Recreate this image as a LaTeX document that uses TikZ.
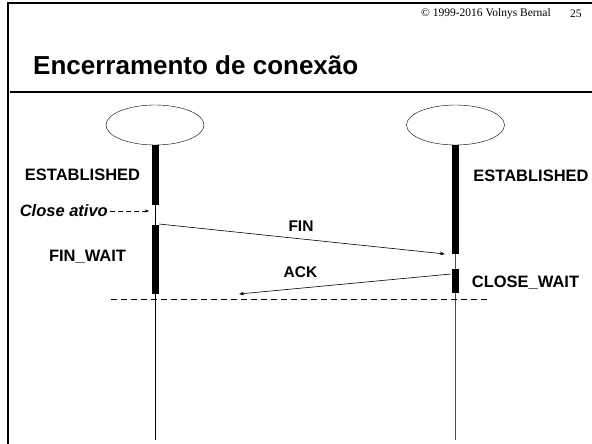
\documentclass[tikz,border=0pt]{standalone}
\usepackage{fontspec}
\setmainfont{Liberation Sans}
\newfontfamily\copyfont{Liberation Serif}
\usetikzlibrary{arrows.meta,shapes.geometric}
\begin{document}
\begin{tikzpicture}[x=1pt,y=-1pt]
       \tikzstyle{host}=[draw, ellipse, minimum width=98pt, minimum height=40pt, inner sep=0pt]
       \tikzstyle{statelabel}=[font=\fontsize{16.5}{18}\selectfont\bfseries, inner sep=0pt]
       \tikzstyle{msglabel}=[font=\fontsize{15.5}{18}\selectfont\bfseries, inner sep=0pt]
       \tikzstyle{active}=[line width=7pt]
       \tikzstyle{msg}=[-{Stealth[length=5pt,width=3.5pt]}, line width=0.6pt]
       \useasboundingbox (0,0) rectangle (592,444);
       % slide frame
       \draw[line width=2pt] (8,444) -- (8,3) -- (592,3);
       \draw[line width=2.5pt] (10,92) -- (592,92);
       \node[font=\copyfont\fontsize{11.5}{13}\selectfont, anchor=west, inner sep=0pt] (copy) at (421,14) {\textcopyright{} 1999-2016 Volnys Bernal};
       \node[font=\copyfont\fontsize{11.5}{13}\selectfont, anchor=west, inner sep=0pt] (page) at (570,14) {25};
       \node[font=\fontsize{26}{30}\selectfont\bfseries, anchor=base west, inner sep=0pt] (title) at (33,75) {Encerramento de conexão};
       % hosts
       \node[host] (hostA) at (155,125) {};
       \node[host] (hostB) at (455.5,125) {};
       \coordinate (endA) at (155,440);
       \coordinate (endB) at (455.5,440);
       \draw[line width=1pt] (hostA.south) -- (endA);
       \draw[line width=1pt, gray!60!black] (hostB.south) -- (endB);
       % active periods
       \draw[active] (hostA.south) -- (155,205);
       \draw[active] (155,225) -- (155,294);
       \draw[active] (hostB.south) -- (455.5,254);
       \draw[active] (455.5,269) -- (455.5,293);
       % states
       \node[statelabel] (estA) at (82.5,175) {ESTABLISHED};
       \node[statelabel] (estB) at (531,176) {ESTABLISHED};
       \node[statelabel] (finwait) at (87.5,257) {FIN\_WAIT};
       \node[statelabel] (closewait) at (525.5,283) {CLOSE\_WAIT};
       \node[statelabel, font=\fontsize{16.5}{18}\selectfont\bfseries\itshape, anchor=east] (close) at (108,211) {Close ativo};
       \coordinate (closeA) at (149,211);
       \draw[dash pattern=on 5pt off 3pt, -{Stealth[length=4pt,width=3pt]}] (close.east) ++(2,0) -- (closeA);
       % messages
       \coordinate (finA) at (159,224);
       \coordinate (finB) at (445,254);
       \coordinate (ackB) at (451,274);
       \coordinate (ackA) at (239,294);
       \draw[msg] (finA) -- (finB);
       \draw[msg] (ackB) -- (ackA);
       \node[msglabel] (fin) at (301,226) {FIN};
       \node[msglabel] (ack) at (300.5,272) {ACK};
       % sync line
       \draw[dash pattern=on 6pt off 4pt] (111,299) -- (488,299);
      \end{tikzpicture}
\end{document}
